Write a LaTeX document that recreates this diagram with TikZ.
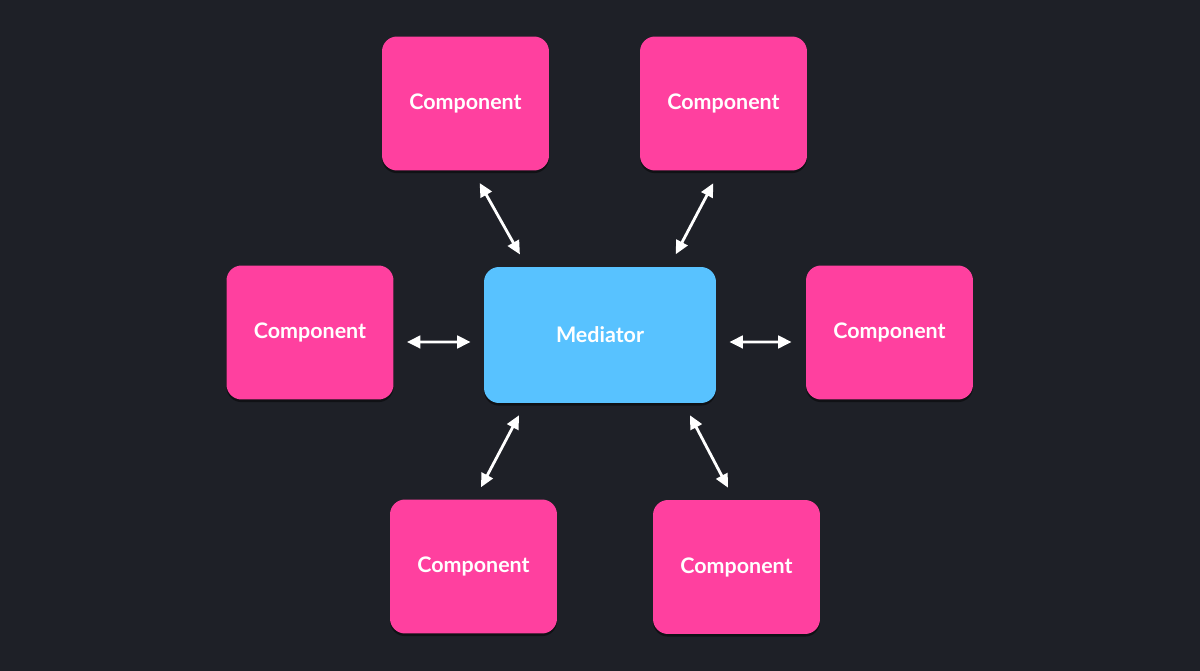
\documentclass[tikz,border=0pt]{standalone}
\usepackage{fontspec}
\setmainfont{Lato}
\usetikzlibrary{arrows.meta,shadows}

\definecolor{bgdark}{HTML}{1E2027}
\definecolor{compink}{HTML}{FF409F}
\definecolor{medblue}{HTML}{58C2FF}

\begin{document}
\begin{tikzpicture}[x=0.02cm,y=-0.02cm,
	comp/.style={rectangle,rounded corners=0.3cm,fill=compink,text=white,
		minimum width=3.34cm,minimum height=2.68cm,
		font=\fontsize{12.2}{14}\selectfont\bfseries,
		drop shadow={shadow xshift=0pt,shadow yshift=-1.5pt,opacity=0.45,fill=black}},
	med/.style={comp,fill=medblue,minimum width=4.64cm,minimum height=2.72cm},
	link/.style={{Triangle[length=0.27cm,width=0.25cm]}-{Triangle[length=0.27cm,width=0.25cm]},
		white,line width=1.6pt,shorten <=0.28cm,shorten >=0.28cm}]

% background
\fill[bgdark] (0,0) rectangle (1200,671);
\useasboundingbox (0,0) rectangle (1200,671);

% mediator
\node[med] (mediator) at (600,335) {Mediator};

% components
\node[comp] (ctl) at (465.5,103.5) {Component};
\node[comp] (ctr) at (723.5,103.5) {Component};
\node[comp] (cl) at (310,332.5) {Component};
\node[comp] (cr) at (889.5,332.5) {Component};
\node[comp] (cbl) at (473.5,566.5) {Component};
\node[comp] (cbr) at (736.5,567) {Component};

% connections
\draw[link] ([shift={(7.3,0)}]ctl.south) -- ([shift={(-73.2,0)}]mediator.north);
\draw[link] ([shift={(-3.7,0)}]ctr.south) -- ([shift={(69.2,0)}]mediator.north);
\draw[link,shorten <=0.26cm,shorten >=0.26cm] ([shift={(0,9.5)}]cl.east) -- ([shift={(0,7)}]mediator.west);
\draw[link,shorten <=0.26cm,shorten >=0.28cm] ([shift={(0,7)}]mediator.east) -- ([shift={(0,9.5)}]cr.west);
\draw[link,shorten <=0.27cm,shorten >=0.27cm] ([shift={(-74.7,0)}]mediator.south) -- ([shift={(1.2,0)}]cbl.north);
\draw[link,shorten <=0.27cm,shorten >=0.27cm] ([shift={(83.7,0)}]mediator.south) -- ([shift={(-2.2,0)}]cbr.north);

\end{tikzpicture}
\end{document}
